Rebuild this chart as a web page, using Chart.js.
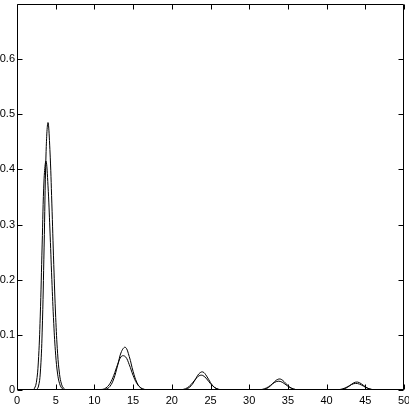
<!DOCTYPE html>
<html>
<head>
<meta charset="utf-8">
<script src="https://cdn.jsdelivr.net/npm/chart.js@4/dist/chart.umd.min.js"></script>
<style>
  html, body { margin: 0; padding: 0; background: #fff; }
</style>
</head>
<body>
<canvas id="c" width="409" height="409"></canvas>
<script>
// x positions of the samples
const xValues = [
  0, 1.5,
  2.0, 2.25, 2.5, 2.75, 3.0, 3.25, 3.5, 3.75, 4.0, 4.25, 4.5, 4.75, 5.0, 5.25, 5.5, 5.75, 6.0, 6.25, 6.5,
  7.0,
  11, 11.5, 12, 12.5, 13, 13.5, 14, 14.5, 15, 15.5, 16, 16.5, 17,
  21, 21.5, 22, 22.5, 23, 23.5, 24, 24.5, 25, 25.5, 26, 26.5, 27,
  31, 31.5, 32, 32.5, 33, 33.5, 34, 34.5, 35, 35.5, 36, 36.5, 37,
  41, 41.5, 42, 42.5, 43, 43.5, 44, 44.5, 45, 45.5, 46, 46.5, 47,
  50
];
// taller curve
const seriesA = [
  0, 0,
  0.0000, 0.0001, 0.0007, 0.0054, 0.0289, 0.105, 0.2576, 0.428, 0.485, 0.436, 0.339, 0.2275, 0.1315, 0.0656, 0.0283, 0.0105, 0.0034, 0.0009, 0.0002,
  0,
  0.0002, 0.0015, 0.0064, 0.0201, 0.0445, 0.0698, 0.0775, 0.0608, 0.0338, 0.0133, 0.0037, 0.0007, 0.0001,
  0.0001, 0.0005, 0.0023, 0.0077, 0.0181, 0.0293, 0.0328, 0.0252, 0.0134, 0.0049, 0.0012, 0.0002, 0,
  0.0000, 0.0003, 0.0014, 0.0047, 0.0110, 0.0178, 0.0199, 0.0153, 0.0081, 0.0030, 0.0008, 0.0001, 0,
  0.0000, 0.0002, 0.0010, 0.0034, 0.0079, 0.0129, 0.0144, 0.0111, 0.0059, 0.0022, 0.0005, 0.0001, 0,
  0
];
// lower curve
const seriesB = [
  0, 0,
  0.0004, 0.0027, 0.0133, 0.049, 0.1325, 0.263, 0.383, 0.415, 0.3715, 0.292, 0.2006, 0.1203, 0.0631, 0.0289, 0.0116, 0.0040, 0.0012, 0.0003, 0.0001,
  0,
  0.0010, 0.0038, 0.0115, 0.0265, 0.0461, 0.0612, 0.0605, 0.0461, 0.0265, 0.0115, 0.0038, 0.0010, 0.0002,
  0.0003, 0.0012, 0.0040, 0.0100, 0.0185, 0.0256, 0.0264, 0.0202, 0.0115, 0.0049, 0.0015, 0.0004, 0.0001,
  0.0002, 0.0007, 0.0024, 0.0059, 0.0110, 0.0152, 0.0156, 0.0120, 0.0068, 0.0029, 0.0009, 0.0002, 0,
  0.0001, 0.0005, 0.0018, 0.0044, 0.0082, 0.0114, 0.0117, 0.0090, 0.0051, 0.0022, 0.0007, 0.0002, 0,
  0
];
const xTicks = [0, 5, 10, 15, 20, 25, 30, 35, 40, 45, 50];
const yTicks = [0, 0.1, 0.2, 0.3, 0.4, 0.5, 0.6];

const toPoints = ys => xValues.map((x, i) => ({ x: x, y: ys[i] }));

const FONT = '"Liberation Sans", Arial, sans-serif';

const boxTicks = {
  id: 'boxTicks',
  afterDraw(chart) {
    const ctx = chart.ctx;
    const a = chart.chartArea;
    const xs = chart.scales.x, ys = chart.scales.y;
    const L = Math.round(a.left) + 0.5, R = Math.round(a.right) - 0.5;
    const T = Math.round(a.top) + 0.5, B = Math.round(a.bottom) - 0.5;
    const len = 5;
    ctx.save();
    ctx.strokeStyle = '#000';
    ctx.lineWidth = 1;
    ctx.beginPath();
    ctx.rect(L, T, R - L, B - T);
    xTicks.forEach(v => {
      const px = Math.round(xs.getPixelForValue(v)) + 0.5;
      ctx.moveTo(px, B); ctx.lineTo(px, B - len);
      ctx.moveTo(px, T); ctx.lineTo(px, T + len);
    });
    yTicks.forEach(v => {
      const py = Math.round(ys.getPixelForValue(v)) + 0.5;
      ctx.moveTo(L, py); ctx.lineTo(L + len, py);
      ctx.moveTo(R, py); ctx.lineTo(R - len, py);
    });
    ctx.stroke();
    ctx.restore();
  }
};

new Chart(document.getElementById('c'), {
  type: 'scatter',
  data: {
    datasets: [
      { data: toPoints(seriesA), showLine: true, borderColor: '#000', borderWidth: 1, pointRadius: 0, tension: 0.4, fill: false },
      { data: toPoints(seriesB), showLine: true, borderColor: '#000', borderWidth: 1, pointRadius: 0, tension: 0.4, fill: false }
    ]
  },
  options: {
    responsive: false,
    animation: false,
    devicePixelRatio: 1,
    layout: { padding: { left: 0, right: 5, top: 4, bottom: 0 } },
    plugins: { legend: { display: false }, tooltip: { enabled: false } },
    scales: {
      x: {
        type: 'linear', min: 0, max: 50,
        afterBuildTicks: s => { s.ticks = xTicks.map(v => ({ value: v })); },
        afterFit: s => { s.height = 19; s.paddingLeft = 0; s.paddingRight = 0; },
        grid: { display: false, drawTicks: false },
        border: { display: false },
        ticks: { color: '#000', padding: 4, maxRotation: 0, autoSkip: false, font: { family: FONT, size: 11 },
                 callback: v => String(v) }
      },
      y: {
        type: 'linear', min: 0, max: 0.7,
        afterBuildTicks: s => { s.ticks = yTicks.map(v => ({ value: v })); },
        afterFit: s => { s.width = 17; s.paddingTop = 0; s.paddingBottom = 0; },
        grid: { display: false, drawTicks: false },
        border: { display: false },
        ticks: { color: '#000', padding: 2, autoSkip: false, font: { family: FONT, size: 11 },
                 callback: v => String(Math.round(v * 10) / 10) }
      }
    }
  },
  plugins: [boxTicks]
});
</script>
</body>
</html>
